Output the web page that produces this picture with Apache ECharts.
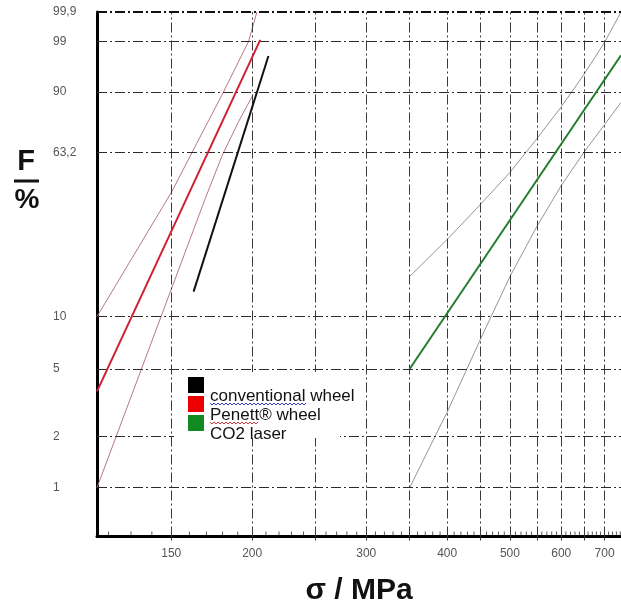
<!DOCTYPE html>
<html><head><meta charset="utf-8">
<script src="https://cdn.jsdelivr.net/npm/echarts@6/dist/echarts.min.js"></script>
<style>html,body{margin:0;padding:0;background:#fff}#c{width:621px;height:612px}</style>
</head><body><div id="c"></div>
<script>
// ---- axis definitions ----
const xTickValues = [150, 200, 300, 400, 500, 600, 700];
const xGridValues = [150, 200, 250, 300, 350, 400, 450, 500, 550, 600, 650, 700];
const xMinorTicks = [120,130,140,160,170,180,190,210,220,230,240,260,270,280,290,310,320,330,340,360,370,380,390,410,420,430,440,460,470,480,490,510,520,530,540,560,570,580,590,610,620,630,640,660,670,680,690,710,720,730,740];
const xRange = [115.2, 742];
const yTickF = [1, 2, 5, 10, 63.2, 90, 99, 99.9];
const yTickLabels = ['1', '2', '5', '10', '63,2', '90', '99', '99,9'];
const yRangeF = [0.513, 99.9];

// ---- series names ----
const seriesNames = ['conventional wheel', 'Penett\u00ae wheel', 'CO2 laser'];

// ---- data: stress sigma (MPa) and failure probability F (%) ----
const convSigma = [162.4, 211.9];
const convF = [13.8, 97.7];

const penettSigma = [115.2, 205.8];
const penettF = [3.7, 99.1];
const penettUpperSigma = [115.2, 150.4, 161.4, 180.6, 197.4, 203.4];
const penettUpperF = [10, 44.5, 63.2, 90, 99, 99.9];
const penettLowerSigma = [115.2, 169.3, 179.8, 190.3, 200.7];
const penettLowerF = [1, 41.4, 61.9, 78.1, 89.2];

const laserSigma = [350, 742];
const laserF = [5, 97.8];
const laserUpperSigma = [350, 400, 450, 500, 550, 600, 650, 700, 742];
const laserUpperF = [16.7, 26.2, 38.8, 53.4, 70.2, 84.7, 94.6, 98.95, 99.9];
const laserLowerSigma = [350, 400, 450, 500, 550, 600, 650, 700, 742];
const laserLowerF = [1, 2.8, 7.4, 16.7, 30.4, 47.1, 63.3, 77.1, 86.4];

// Weibull probability scale: ln(-ln(1-F))
function W(f) { return Math.log(-Math.log(1 - f / 100)); }
function pairs(s, f) { return s.map((v, i) => [v, W(f[i])]); }

const yTickW = yTickF.map(W);
function yLabel(v) {
  let best = 0, d = Infinity;
  yTickW.forEach((w, i) => { const dd = Math.abs(w - v); if (dd < d) { d = dd; best = i; } });
  return yTickLabels[best];
}

const gridDash = [10, 3, 2, 3];
const FONT = 'Liberation Sans, Arial, sans-serif';

function lineSeries(name, data, color, width, z) {
  return {
    name: name, type: 'line', data: data, showSymbol: false, symbol: 'none',
    lineStyle: { color: color, width: width }, itemStyle: { color: color },
    clip: true, silent: true, z: z, animation: false
  };
}

function zig(x0, x1, y) {
  const pts = [];
  let up = true;
  for (let x = x0; x <= x1; x += 2) { pts.push([x, up ? y : y + 2]); up = !up; }
  return pts;
}

const chart = echarts.init(document.getElementById('c'), null, { renderer: 'canvas' });
chart.setOption({
  animation: false,
  backgroundColor: '#fff',
  grid: { left: 97, right: 0, top: 12, bottom: 75.5, containLabel: false },
  xAxis: {
    type: 'log', logBase: 10, min: xRange[0], max: xRange[1],
    name: '\u03c3 / MPa', nameLocation: 'middle', nameGap: 39,
    nameTextStyle: { fontFamily: FONT, fontSize: 30, fontWeight: 'bold', color: '#111' },
    axisLine: { show: true, onZero: false, lineStyle: { color: '#000', width: 3 } },
    axisTick: { show: true, customValues: xGridValues, length: 4, lineStyle: { color: '#333' } },
    axisLabel: { show: true, customValues: xTickValues, margin: 11, fontSize: 12, color: '#555',
      fontFamily: FONT, formatter: v => String(Math.round(v)) },
    splitLine: { show: false }, minorTick: { show: false }, minorSplitLine: { show: false }
  },
  yAxis: {
    type: 'value', min: W(yRangeF[0]), max: W(yRangeF[1]),
    axisLine: { show: true, onZero: false, lineStyle: { color: '#000', width: 3 } },
    axisTick: { show: false },
    axisLabel: { show: true, customValues: yTickW, align: 'left', margin: 44, fontSize: 12, color: '#555',
      fontFamily: FONT, formatter: v => yLabel(v) },
    splitLine: { show: false }
  },
  series: [
    {
      name: 'grid', type: 'line', data: [], silent: true, z: 1,
      markLine: {
        silent: true, symbol: ['none', 'none'], label: { show: false }, animation: false,
        lineStyle: { color: '#2b2b2b', width: 1, type: gridDash },
        data: xGridValues.map(v => ({ xAxis: v, lineStyle: { color: '#3a3a3a' } }))
          .concat(yTickF.map(f => ({ yAxis: W(f), lineStyle: f === 99.9 ? { color: '#111', width: 2, type: gridDash } : { color: '#2b2b2b', width: 1.2 } })))
      }
    },
    {
      name: 'minor', type: 'scatter', silent: true, z: 3,
      data: xMinorTicks.map(v => [v, W(yRangeF[0])]),
      symbol: 'rect', symbolSize: [1, 4], symbolOffset: [0, -3],
      itemStyle: { color: '#333' }, clip: false
    },
    lineSeries('penettUpper', pairs(penettUpperSigma, penettUpperF), '#b57a80', 1, 4),
    lineSeries('penettLower', pairs(penettLowerSigma, penettLowerF), '#b57a80', 1, 4),
    lineSeries(seriesNames[1], pairs(penettSigma, penettF), '#cf2035', 2, 5),
    lineSeries(seriesNames[0], pairs(convSigma, convF), '#111111', 2, 5),
    lineSeries('laserUpper', pairs(laserUpperSigma, laserUpperF), '#8a9c8a', 1, 4),
    lineSeries('laserLower', pairs(laserLowerSigma, laserLowerF), '#8a9c8a', 1, 4),
    lineSeries(seriesNames[2], pairs(laserSigma, laserF), '#237d2d', 2, 5)
  ],
  graphic: [
    { type: 'rect', z: 50, shape: { x: 174, y: 372, width: 166, height: 66 }, style: { fill: '#fff' } },
    { type: 'rect', z: 51, shape: { x: 188, y: 377, width: 16, height: 16 }, style: { fill: '#000' } },
    { type: 'rect', z: 51, shape: { x: 188, y: 396, width: 16, height: 16 }, style: { fill: '#ee0000' } },
    { type: 'rect', z: 51, shape: { x: 188, y: 415, width: 16, height: 16 }, style: { fill: '#128a22' } },
    { type: 'text', z: 51, style: { text: seriesNames[0], x: 210, y: 396, verticalAlign: 'middle', fontSize: 17, fontFamily: FONT, fill: '#111' } },
    { type: 'text', z: 51, style: { text: seriesNames[1], x: 210, y: 415, verticalAlign: 'middle', fontSize: 17, fontFamily: FONT, fill: '#111' } },
    { type: 'text', z: 51, style: { text: seriesNames[2], x: 210, y: 434, verticalAlign: 'middle', fontSize: 17, fontFamily: FONT, fill: '#111' } },
    { type: 'polyline', z: 52, shape: { points: zig(210, 306, 403) }, style: { stroke: '#3a3ad0', lineWidth: 1, fill: null } },
    { type: 'polyline', z: 52, shape: { points: zig(210, 258, 422) }, style: { stroke: '#d03a3a', lineWidth: 1, fill: null } },
    { type: 'text', style: { text: 'F', x: 26, y: 162, align: 'center', verticalAlign: 'middle', fontSize: 29, fontWeight: 'bold', fontFamily: FONT, fill: '#111' } },
    { type: 'line', shape: { x1: 14, y1: 181, x2: 39, y2: 181 }, style: { stroke: '#111', lineWidth: 3 } },
    { type: 'text', style: { text: '%', x: 27, y: 200, align: 'center', verticalAlign: 'middle', fontSize: 28, fontWeight: 'bold', fontFamily: FONT, fill: '#111' } }
  ]
});
</script>
</body></html>
